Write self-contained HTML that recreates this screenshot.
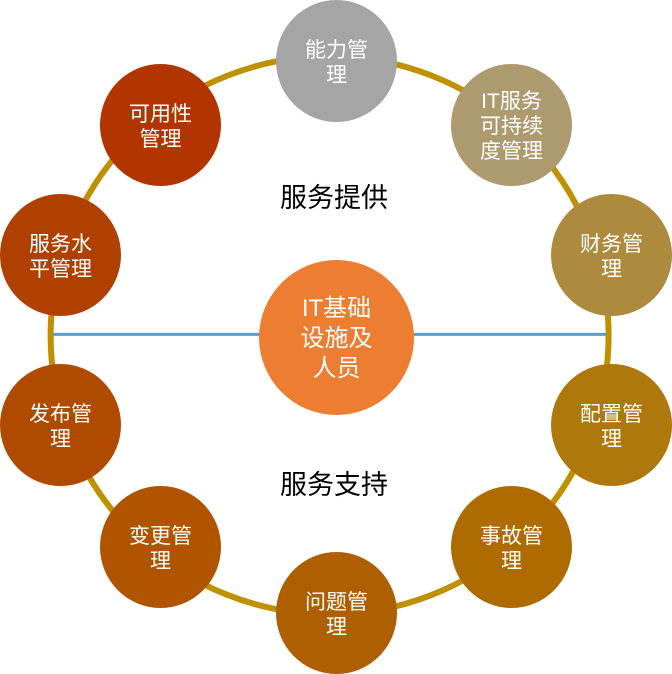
<!DOCTYPE html>
<html lang="zh">
<head>
<meta charset="utf-8">
<style>
html,body{margin:0;padding:0;background:#fff;}
#d{position:relative;width:672px;height:674px;overflow:hidden;font-family:"Liberation Sans","Noto Sans CJK SC",sans-serif;}
svg{position:absolute;left:0;top:0;}
.n{position:absolute;width:121px;height:122px;border-radius:50%;color:#fff;font-size:21px;line-height:25px;text-align:center;box-sizing:border-box;padding:0 26px;display:flex;align-items:center;justify-content:center;}
.n span{display:block;width:70px;position:relative;top:1.5px;}
.c{position:absolute;left:259px;top:260px;width:155px;height:155px;border-radius:50%;background:#ED7D31;color:#fff;font-size:24px;line-height:30px;display:flex;align-items:center;justify-content:center;text-align:center;}
.c span{display:block;width:80px;position:relative;top:1.5px;}
.t{position:absolute;left:234px;width:200px;text-align:center;font-size:27px;line-height:34px;color:#000;}
</style>
</head>
<body>
<div id="d">
<svg width="672" height="674" viewBox="0 0 672 674">
<circle cx="329.6" cy="335.3" r="279" fill="none" stroke="#BF9000" stroke-width="6"/>
<line x1="53" y1="334.4" x2="606" y2="334.4" stroke="#5B9BD5" stroke-width="3"/>
</svg>
<div class="n" style="left:276px;top:0;background:#A5A5A5"><span>能力管理</span></div>
<div class="n" style="left:451px;top:64px;background:#AD9A6F"><span>IT服务可持续度管理</span></div>
<div class="n" style="left:551px;top:194px;background:#AE8A3F"><span>财务管理</span></div>
<div class="n" style="left:551px;top:364px;background:#AE780C"><span>配置管理</span></div>
<div class="n" style="left:451px;top:486px;background:#AE6C00"><span>事故管理</span></div>
<div class="n" style="left:276px;top:552px;background:#AE5F00"><span>问题管理</span></div>
<div class="n" style="left:100px;top:486px;background:#B05400"><span>变更管理</span></div>
<div class="n" style="left:0;top:364px;background:#B04A00"><span>发布管理</span></div>
<div class="n" style="left:0;top:194px;background:#B04000"><span>服务水平管理</span></div>
<div class="n" style="left:100px;top:64px;background:#B23500"><span>可用性管理</span></div>
<div class="c"><span>IT基础设施及人员</span></div>
<div class="t" style="top:181px">服务提供</div>
<div class="t" style="top:468px">服务支持</div>
</div>
</body>
</html>
